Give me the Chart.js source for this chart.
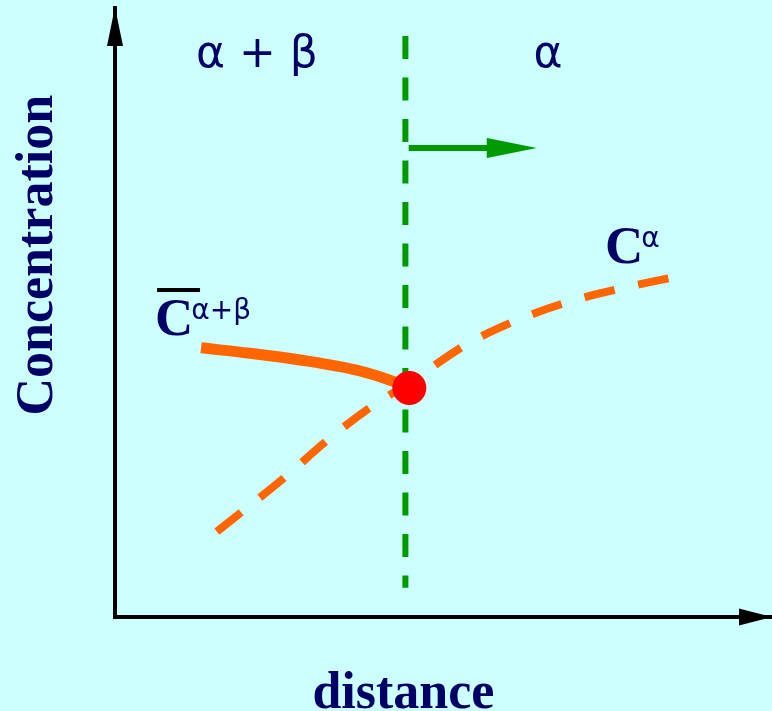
<!DOCTYPE html>
<html>
<head>
<meta charset="utf-8">
<title>Concentration profile at a moving boundary</title>
<script src="https://cdn.jsdelivr.net/npm/chart.js@4"></script>
<style>
  html, body { margin: 0; padding: 0; background: #ccffff; }
  canvas { display: block; }
</style>
</head>
<body>
<canvas id="profile" width="772" height="711"></canvas>
<script>
// Averaged concentration in the two-phase region (solid curve)
const avgDistance = [13.1, 20.5, 28.2, 37.3, 42.6, 44.1];
const avgConc = [44.2, 43.3, 42.2, 40.4, 38.6, 37.9];

// Concentration in the alpha phase (dashed curve)
const alphaDistance = [15.5, 25.9, 32.4, 39.1, 44.6, 53.4, 60.9, 68.9, 77.2, 84.6];
const alphaConc = [14.0, 23.0, 29.1, 34.6, 38.3, 44.7, 48.6, 51.7, 54.0, 55.7];

// Position of the phase boundary
const boundaryDistance = [44.2, 44.2];
const boundaryConc = [95.4, 4.8];

// Point where both curves meet at the boundary
const contactDistance = [44.8];
const contactConc = [37.6];

// Direction in which the boundary moves
const motionDistance = [44.7, 57.5];
const motionConc = [77.0, 77.0];
const motionTip = 64.2;

const phaseNames = ['α + β', 'α'];
const xTitle = 'distance';
const yTitle = 'Concentration';

const INK = '#000066';
const ORANGE = '#ff6600';
const GREEN = '#009900';

const toPoints = (xs, ys) => xs.map((x, i) => ({ x: x, y: ys[i] }));

// Paints background, arrowheads and all the text labels
const decorations = {
    id: 'decorations',
    beforeDraw: (chart) => {
        const ctx = chart.ctx;
        ctx.save();
        ctx.fillStyle = '#ccffff';
        ctx.fillRect(0, 0, chart.width, chart.height);
        ctx.restore();
    },
    afterDraw: (chart) => {
        const ctx = chart.ctx;
        const xs = chart.scales.x;
        const ys = chart.scales.y;
        const area = chart.chartArea;
        const px = (v) => xs.getPixelForValue(v);
        const py = (v) => ys.getPixelForValue(v);

        const tri = (a, b, c, color) => {
            ctx.beginPath();
            ctx.moveTo(a[0], a[1]);
            ctx.lineTo(b[0], b[1]);
            ctx.lineTo(c[0], c[1]);
            ctx.closePath();
            ctx.fillStyle = color;
            ctx.fill();
        };

        ctx.save();

        // axis arrowheads
        const ox = px(0);
        const oy = py(0);
        tri([ox, area.top - 1], [ox - 8, area.top + 38], [ox + 8, area.top + 38], '#000');
        tri([area.right, oy], [area.right - 33, oy - 8.5], [area.right - 33, oy + 8.5], '#000');

        // arrowhead of the motion arrow
        const my = py(motionConc[0]);
        const baseX = px(motionDistance[1]) - 6;
        tri([px(motionTip), my], [baseX, my - 10], [baseX, my + 10], GREEN);

        ctx.fillStyle = INK;
        ctx.textBaseline = 'alphabetic';

        // phase region names
        ctx.font = '44px "DejaVu Sans", sans-serif';
        ctx.textAlign = 'center';
        ctx.fillText(phaseNames[0], px(21.6), py(90.3));
        ctx.fillText(phaseNames[1], px(65.9), py(90.3));

        // axis titles
        ctx.font = 'bold 52px "Liberation Serif", "Times New Roman", serif';
        ctx.fillText(xTitle, px(43.9), py(-14.9));
        ctx.save();
        ctx.translate(px(-9.6), py(59.4));
        ctx.rotate(-Math.PI / 2);
        ctx.fillText(yTitle, 0, 0);
        ctx.restore();

        // curve labels with superscripts
        const curveLabel = (x, y, sup, bar) => {
            ctx.textAlign = 'left';
            ctx.font = 'bold 53px "Liberation Serif", "Times New Roman", serif';
            const cx = px(x);
            const cy = py(y);
            ctx.fillText('C', cx - 2, cy);
            const w = ctx.measureText('C').width;
            ctx.font = '28px "DejaVu Sans", sans-serif';
            ctx.fillText(sup, cx + w - 4, cy - 16);
            if (bar) {
                ctx.fillStyle = '#000';
                ctx.fillRect(cx, cy - 47, 43, 4);
                ctx.fillStyle = INK;
            }
        };
        curveLabel(74.9, 58.1, 'α', false);
        curveLabel(6.4, 46.3, 'α+β', true);

        ctx.restore();
    }
};

const hiddenAxis = {
    type: 'linear',
    min: 0,
    max: 100,
    grid: { display: false, drawTicks: false },
    ticks: { display: false },
    border: { display: true, color: '#000', width: 4 }
};

new Chart(document.getElementById('profile'), {
    type: 'scatter',
    data: {
        datasets: [
            {
                label: 'contact',
                data: toPoints(contactDistance, contactConc),
                pointRadius: 17,
                pointHoverRadius: 17,
                pointBackgroundColor: '#ff0000',
                pointBorderWidth: 0,
                order: 0
            },
            {
                label: 'boundary',
                data: toPoints(boundaryDistance, boundaryConc),
                showLine: true,
                borderColor: GREEN,
                borderWidth: 6,
                borderDash: [23, 18.5],
                pointRadius: 0,
                order: 1
            },
            {
                label: 'motion',
                data: toPoints(motionDistance, motionConc),
                showLine: true,
                borderColor: GREEN,
                borderWidth: 6,
                pointRadius: 0,
                order: 2
            },
            {
                label: 'C alpha+beta',
                data: toPoints(avgDistance, avgConc),
                showLine: true,
                borderColor: ORANGE,
                borderWidth: 11,
                cubicInterpolationMode: 'monotone',
                pointRadius: 0,
                order: 3
            },
            {
                label: 'C alpha',
                data: toPoints(alphaDistance, alphaConc),
                showLine: true,
                borderColor: ORANGE,
                borderWidth: 8,
                borderDash: [31, 24],
                cubicInterpolationMode: 'monotone',
                pointRadius: 0,
                order: 4
            }
        ]
    },
    options: {
        responsive: false,
        animation: false,
        devicePixelRatio: 1,
        layout: {
            autoPadding: false,
            padding: { left: 115, top: 8, right: 0, bottom: 94 }
        },
        plugins: {
            legend: { display: false },
            tooltip: { enabled: false }
        },
        scales: {
            x: hiddenAxis,
            y: hiddenAxis
        }
    },
    plugins: [decorations]
});
</script>
</body>
</html>
